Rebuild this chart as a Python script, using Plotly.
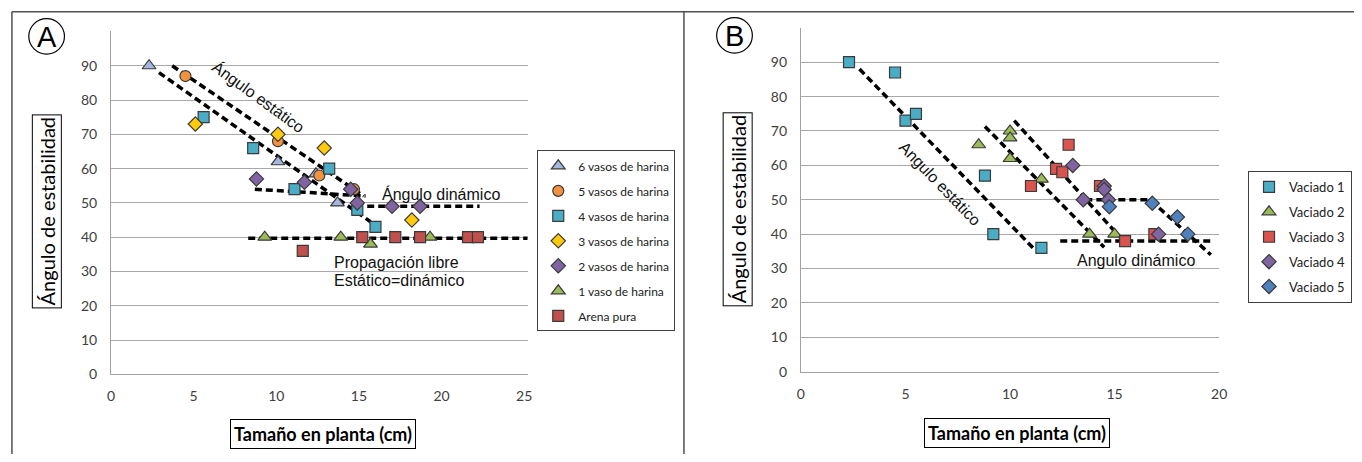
import plotly.graph_objects as go

W, H = 1362, 462

# ---------------- Panel A data ----------------
A_names = ["6 vasos de harina", "5 vasos de harina", "4 vasos de harina", "3 vasos de harina",
           "2 vasos de harina", "1 vaso de harina", "Arena pura"]
A_x6 = [2.3, 10.1, 12.4, 13.7]
A_y6 = [90, 62, 58.5, 50]
A_x5 = [4.5, 10.1, 12.6, 14.7]
A_y5 = [87, 68, 58, 54]
A_x4 = [5.6, 8.6, 11.1, 13.2, 14.9, 16.0]
A_y4 = [75, 66, 54, 60, 48, 43]
A_x3 = [5.1, 10.1, 12.9, 18.2]
A_y3 = [73, 70, 66, 45]
A_x2 = [8.8, 11.7, 14.5, 14.9, 17.0, 18.7]
A_y2 = [57, 56, 54, 50, 49, 49]
A_x1 = [9.3, 13.9, 15.7, 19.3]
A_y1 = [40, 40, 38, 40]
A_xar = [11.6, 15.2, 17.2, 18.7, 21.6, 22.2]
A_yar = [36, 40, 40, 40, 40, 40]

# trend lines A
A_up_x, A_up_y = [3.7, 15.3], [90, 52]
A_lo_x, A_lo_y = [2.9, 15.7], [88, 44.5]
A_d1_x, A_d1_y = [8.7, 15.4], [54, 52]
A_d2_x, A_d2_y = [15.5, 22.3], [49, 49]
A_fr_x, A_fr_y = [8.3, 25.2], [39.7, 39.7]

# ---------------- Panel B data ----------------
B_names = ["Vaciado 1", "Vaciado 2", "Vaciado 3", "Vaciado 4", "Vaciado 5"]
B_x1 = [2.3, 4.5, 5.0, 5.5, 8.8, 9.2, 11.5]
B_y1 = [90, 87, 73, 75, 57, 40, 36]
B_x2 = [8.5, 10.0, 10.0, 10.0, 11.5, 13.8, 15.0]
B_y2 = [66, 70, 68, 62, 56, 40, 40]
B_x3 = [11.0, 12.2, 12.5, 12.8, 14.3, 15.5, 16.9]
B_y3 = [54, 59, 58, 66, 54, 38, 40]
B_x4 = [13.0, 13.5, 14.5, 14.5, 14.7, 17.1]
B_y4 = [60, 50, 54, 53, 50, 40]
B_x5 = [14.75, 16.8, 18.0, 18.5]
B_y5 = [48, 49, 45, 40]

B_s1_x, B_s1_y = [2.8, 11.1], [88, 36]
B_s2_x, B_s2_y = [8.8, 14.5], [71.3, 36.2]
B_s3_x, B_s3_y = [10.2, 15.5], [73, 37.5]
B_s4_x, B_s4_y = [13.6, 16.7, 19.6], [50, 50, 34]
B_dy_x, B_dy_y = [12.4, 19.7], [38, 38]

y_ticks = [0, 10, 20, 30, 40, 50, 60, 70, 80, 90]
A_x_ticks = [0, 5, 10, 15, 20, 25]
B_x_ticks = [0, 5, 10, 15, 20]

OUT = "#3a3a3a"
CAL = "Lato"
ARIAL = "Liberation Sans"


def px(x):
    return x / W


def py(y):
    return 1 - y / H


fig = go.Figure()

A_series = [
    (A_x6, A_y6, "triangle-up", "#A3B6DC", 12),
    (A_x5, A_y5, "circle", "#F29240", 11),
    (A_x4, A_y4, "square", "#4BACC6", 11),
    (A_x3, A_y3, "diamond", "#FFC90E", 11),
    (A_x2, A_y2, "diamond", "#8064A2", 11),
    (A_x1, A_y1, "triangle-up", "#9BBB59", 12),
    (A_xar, A_yar, "square", "#C0504D", 11),
]

dash_style = dict(color="black", width=3.5, dash="7px,4px")
for lx, ly in [(A_up_x, A_up_y), (A_lo_x, A_lo_y), (A_d1_x, A_d1_y), (A_d2_x, A_d2_y), (A_fr_x, A_fr_y)]:
    fig.add_trace(go.Scatter(x=lx, y=ly, mode="lines", line=dash_style, showlegend=False,
                             hoverinfo="skip", xaxis="x", yaxis="y"))

for i, (xs, ys, sym, col, sz) in enumerate(A_series):
    fig.add_trace(go.Scatter(x=xs, y=ys, mode="markers", name=A_names[i], legendgroup="a%d" % i,
                             marker=dict(symbol=sym, color=col, size=sz, line=dict(color=OUT, width=1.2)),
                             xaxis="x", yaxis="y", legend="legend"))

B_series = [
    (B_x1, B_y1, "square", "#4BACC6", 11),
    (B_x2, B_y2, "triangle-up", "#9BBB59", 12),
    (B_x3, B_y3, "square", "#D9534F", 11),
    (B_x4, B_y4, "diamond", "#8064A2", 11),
    (B_x5, B_y5, "diamond", "#4F81BD", 11),
]
for lx, ly in [(B_s1_x, B_s1_y), (B_s2_x, B_s2_y), (B_s3_x, B_s3_y), (B_s4_x, B_s4_y), (B_dy_x, B_dy_y)]:
    fig.add_trace(go.Scatter(x=lx, y=ly, mode="lines", line=dash_style, showlegend=False,
                             hoverinfo="skip", xaxis="x2", yaxis="y2"))
for i, (xs, ys, sym, col, sz) in enumerate(B_series):
    fig.add_trace(go.Scatter(x=xs, y=ys, mode="markers", name=B_names[i], legendgroup="b%d" % i,
                             marker=dict(symbol=sym, color=col, size=sz, line=dict(color=OUT, width=1.2)),
                             xaxis="x2", yaxis="y2", legend="legend2"))

axis_common = dict(gridcolor="#A8A8A8", gridwidth=1, zeroline=False,
                   showline=True, linecolor="#A0A0A0", linewidth=1, ticks="",
                   tickfont=dict(family=CAL, size=14, color="#404040"), fixedrange=True)

fig.update_layout(
    width=W, height=H, autosize=False,
    margin=dict(l=0, r=0, t=0, b=0),
    paper_bgcolor="white", plot_bgcolor="white",
    xaxis=dict(domain=[px(108), px(529)], range=[0, 25.25], tickvals=A_x_ticks,
               anchor="y", showgrid=False, ticklabelstandoff=9, **axis_common),
    yaxis=dict(domain=[py(381), py(32)], range=[0, 100], tickvals=y_ticks, anchor="x",
               showgrid=True, ticklabelstandoff=10, **axis_common),
    xaxis2=dict(domain=[px(804), px(1226)], range=[0, 20], tickvals=B_x_ticks,
                anchor="y2", showgrid=False, ticklabelstandoff=9, **axis_common),
    yaxis2=dict(domain=[py(378.3), py(28.3)], range=[0, 100], tickvals=y_ticks, anchor="x2",
                showgrid=True, ticklabelstandoff=10, **axis_common),
    legend=dict(x=px(538), y=py(153), xanchor="left", yanchor="top", xref="paper", yref="paper",
                bordercolor="#404040", borderwidth=1, bgcolor="white",
                font=dict(family=CAL, size=12, color="#222"), tracegroupgap=6),
    legend2=dict(x=px(1360), y=py(174), xanchor="right", yanchor="top", xref="paper", yref="paper",
                 bordercolor="#404040", borderwidth=1, bgcolor="white",
                 font=dict(family=CAL, size=13, color="#222"), tracegroupgap=5),
    showlegend=True,
)

ann = []
ann.append(dict(x=8.96, y=81.0, xref="x", yref="y", text="Ángulo estático", textangle=36, showarrow=False,
                font=dict(family=ARIAL, size=16, color="#111")))
ann.append(dict(x=19.96, y=52.7, xref="x", yref="y", text="Ángulo dinámico", showarrow=False,
                font=dict(family=ARIAL, size=16, color="#111")))
ann.append(dict(x=13.35, y=32.7, xref="x", yref="y", text="Propagación libre", showarrow=False, xanchor="left",
                font=dict(family=ARIAL, size=16, color="#111")))
ann.append(dict(x=13.35, y=27.5, xref="x", yref="y", text="Estático=dinámico", showarrow=False, xanchor="left",
                font=dict(family=ARIAL, size=16, color="#111")))
ann.append(dict(x=6.63, y=54.6, xref="x2", yref="y2", text="Angulo estático", textangle=46, showarrow=False,
                font=dict(family=ARIAL, size=16, color="#111")))
ann.append(dict(x=16.0, y=32.2, xref="x2", yref="y2", text="Angulo dinámico", showarrow=False,
                font=dict(family=ARIAL, size=16, color="#111")))

for cx, cy in [(43.5, 215), (740, 212.5)]:
    ann.append(dict(x=px(cx), y=py(cy), xref="paper", yref="paper", xanchor="center", yanchor="middle",
                    text="Ángulo de estabilidad", textangle=-90, showarrow=False,
                    bordercolor="black", borderwidth=1, borderpad=2,
                    font=dict(family=CAL, size=20, color="black")))
for cx, cy in [(322, 442), (1022, 441)]:
    ann.append(dict(x=px(cx), y=py(cy), xref="paper", yref="paper", xanchor="center", yanchor="middle",
                    text="<b>Tamaño en planta (cm)</b>", showarrow=False,
                    bordercolor="black", borderwidth=1, borderpad=3,
                    font=dict(family=CAL, size=18, color="black")))

for cx, cy, t in [(43, 37, "A"), (737, 36, "B")]:
    ann.append(dict(x=px(cx), y=py(cy + 1), xref="paper", yref="paper", xanchor="center", yanchor="middle",
                    text=t, showarrow=False, font=dict(family=ARIAL, size=29, color="black")))
fig.update_layout(annotations=ann)

shapes = []
for cx, cy in [(43, 37), (737, 36)]:
    r = 18
    shapes.append(dict(type="circle", xref="paper", yref="paper", x0=px(cx - r), x1=px(cx + r),
                       y0=py(cy + r), y1=py(cy - r), line=dict(color="black", width=1.2)))
frame = dict(color="#505050", width=1.5)
shapes.append(dict(type="line", xref="paper", yref="paper", x0=px(8), x1=px(8), y0=py(12), y1=0, line=frame))
shapes.append(dict(type="line", xref="paper", yref="paper", x0=px(8), x1=1, y0=py(12), y1=py(12), line=frame))
shapes.append(dict(type="line", xref="paper", yref="paper", x0=px(686), x1=px(686), y0=py(12), y1=0, line=frame))
fig.update_layout(shapes=shapes)

fig.write_html("out.html", config={"displayModeBar": False, "staticPlot": False},
               post_script="document.body.style.margin='0px';")
